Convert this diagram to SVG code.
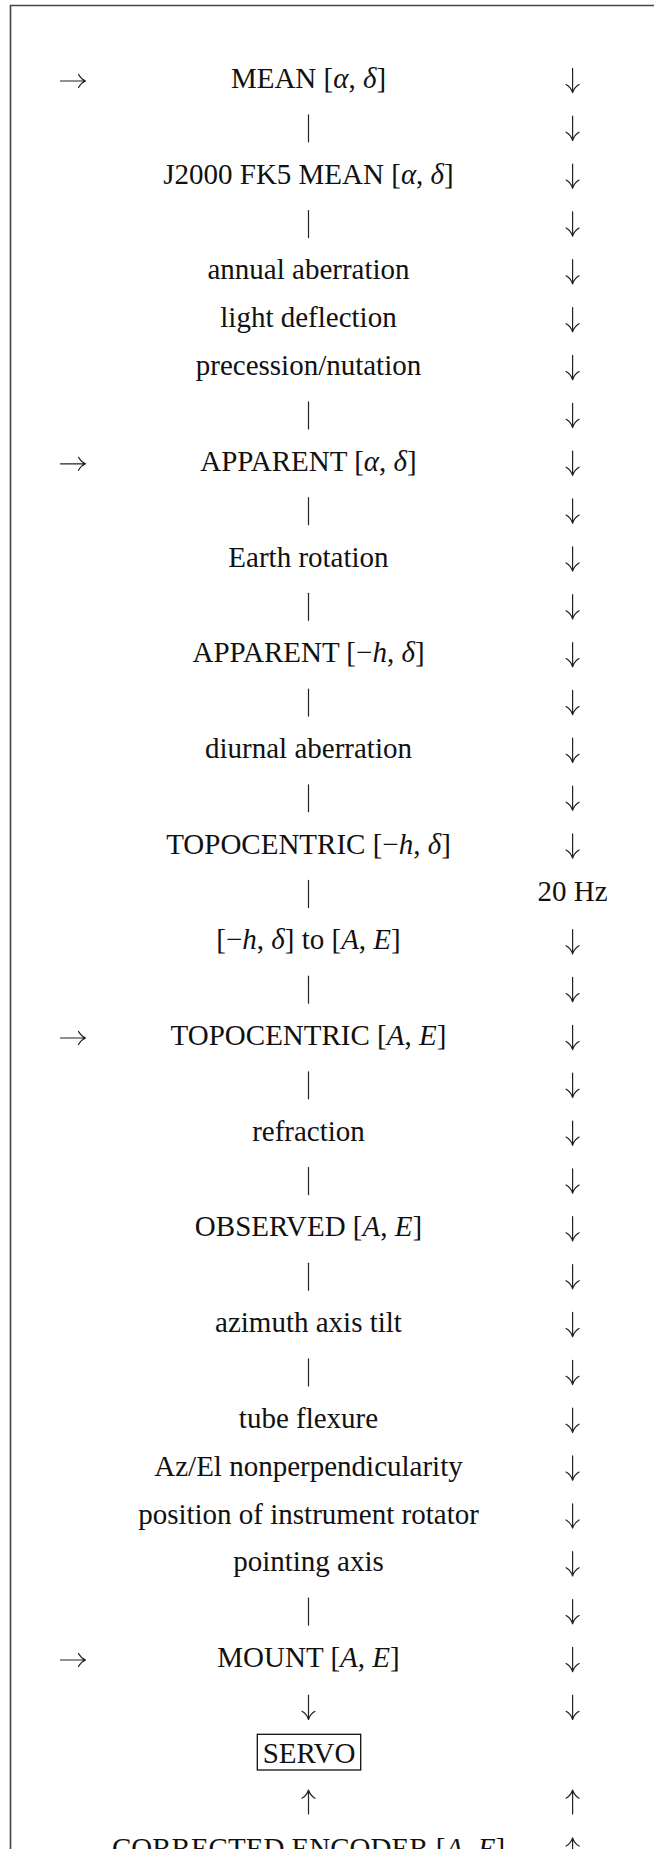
<svg xmlns="http://www.w3.org/2000/svg" width="654" height="1849" viewBox="0 0 654 1849">
<style>
text{font-family:"Liberation Serif","Times New Roman",serif;font-size:29px;fill:#111;text-anchor:middle}
.i{font-style:italic}
.ln{fill:none;stroke:#222;stroke-width:1.2;stroke-linecap:round;stroke-linejoin:round}
.frame{fill:none;stroke:#444;stroke-width:1.6}
.box{fill:none;stroke:#111;stroke-width:1.3}
</style>
<defs>
<g id="dn" class="ln"><path d="M0,-19.7V4.6M-6.5,-3.6C-3,-1.6 -1,1.4 0,4.6C1,1.4 3,-1.6 6.5,-3.6"/></g>
<g id="up" class="ln"><path d="M0,3.4V-20.6M-6.5,-12.4C-3,-14.4 -1,-17.4 0,-20.6C1,-17.4 3,-14.4 6.5,-12.4"/></g>
<g id="rt" class="ln"><path d="M-25,0H0M-7,-6.5C-5,-3 -2.5,-1 0,0C-2.5,1 -5,3 -7,6.5"/></g>
<g id="bar" class="ln"><path d="M0,-21V6"/></g>
</defs>
<path class="frame" d="M654,5.5H10.5V1849"/>

<g id="connectors">
<!-- left inputs -->
<use href="#rt" x="85.5" y="81"/>
<use href="#rt" x="85.5" y="463.8"/>
<use href="#rt" x="85.5" y="1038"/>
<use href="#rt" x="85.5" y="1660"/>
<!-- center bars -->
<use href="#bar" x="308.5" y="135.85"/>
<use href="#bar" x="308.5" y="231.55"/>
<use href="#bar" x="308.5" y="422.95"/>
<use href="#bar" x="308.5" y="518.65"/>
<use href="#bar" x="308.5" y="614.35"/>
<use href="#bar" x="308.5" y="710.05"/>
<use href="#bar" x="308.5" y="805.75"/>
<use href="#bar" x="308.5" y="901.45"/>
<use href="#bar" x="308.5" y="997.15"/>
<use href="#bar" x="308.5" y="1092.85"/>
<use href="#bar" x="308.5" y="1188.55"/>
<use href="#bar" x="308.5" y="1284.25"/>
<use href="#bar" x="308.5" y="1379.95"/>
<use href="#bar" x="308.5" y="1619.2"/>
<use href="#dn" x="308.5" y="1714.9"/>
<use href="#up" x="308.5" y="1810.6"/>
<!-- right column -->
<use href="#dn" x="572.6" y="88"/>
<use href="#dn" x="572.6" y="135.85"/>
<use href="#dn" x="572.6" y="183.7"/>
<use href="#dn" x="572.6" y="231.55"/>
<use href="#dn" x="572.6" y="279.4"/>
<use href="#dn" x="572.6" y="327.25"/>
<use href="#dn" x="572.6" y="375.1"/>
<use href="#dn" x="572.6" y="422.95"/>
<use href="#dn" x="572.6" y="470.8"/>
<use href="#dn" x="572.6" y="518.65"/>
<use href="#dn" x="572.6" y="566.5"/>
<use href="#dn" x="572.6" y="614.35"/>
<use href="#dn" x="572.6" y="662.2"/>
<use href="#dn" x="572.6" y="710.05"/>
<use href="#dn" x="572.6" y="757.9"/>
<use href="#dn" x="572.6" y="805.75"/>
<use href="#dn" x="572.6" y="853.6"/>
<use href="#dn" x="572.6" y="949.3"/>
<use href="#dn" x="572.6" y="997.15"/>
<use href="#dn" x="572.6" y="1045"/>
<use href="#dn" x="572.6" y="1092.85"/>
<use href="#dn" x="572.6" y="1140.7"/>
<use href="#dn" x="572.6" y="1188.55"/>
<use href="#dn" x="572.6" y="1236.4"/>
<use href="#dn" x="572.6" y="1284.25"/>
<use href="#dn" x="572.6" y="1332.1"/>
<use href="#dn" x="572.6" y="1379.95"/>
<use href="#dn" x="572.6" y="1427.8"/>
<use href="#dn" x="572.6" y="1475.65"/>
<use href="#dn" x="572.6" y="1523.5"/>
<use href="#dn" x="572.6" y="1571.35"/>
<use href="#dn" x="572.6" y="1619.2"/>
<use href="#dn" x="572.6" y="1667.05"/>
<use href="#dn" x="572.6" y="1714.9"/>
<use href="#up" x="572.6" y="1810.6"/>
<use href="#up" x="572.6" y="1858.45"/>
</g>

<g id="n-mean"><text x="308.5" y="88">MEAN [<tspan class="i">α</tspan>, <tspan class="i">δ</tspan>]</text></g>
<g id="n-j2000"><text x="308.5" y="183.7">J2000 FK5 MEAN [<tspan class="i">α</tspan>, <tspan class="i">δ</tspan>]</text></g>
<g id="n-annual"><text x="308.5" y="279.4">annual aberration</text></g>
<g id="n-light"><text x="308.5" y="327.25">light deflection</text></g>
<g id="n-prec"><text x="308.5" y="375.1">precession/nutation</text></g>
<g id="n-apparent"><text x="308.5" y="470.8">APPARENT [<tspan class="i">α</tspan>, <tspan class="i">δ</tspan>]</text></g>
<g id="n-earth"><text x="308.5" y="566.5">Earth rotation</text></g>
<g id="n-apparent-h"><text x="308.5" y="662.2">APPARENT [−<tspan class="i">h</tspan>, <tspan class="i">δ</tspan>]</text></g>
<g id="n-diurnal"><text x="308.5" y="757.9">diurnal aberration</text></g>
<g id="n-topo-h"><text x="308.5" y="853.6">TOPOCENTRIC [−<tspan class="i">h</tspan>, <tspan class="i">δ</tspan>]</text></g>
<g id="n-rate"><text x="572.6" y="901.45">20 Hz</text></g>
<g id="n-conv"><text x="308.5" y="949.3">[−<tspan class="i">h</tspan>, <tspan class="i">δ</tspan>] to [<tspan class="i">A</tspan>, <tspan class="i">E</tspan>]</text></g>
<g id="n-topo-ae"><text x="308.5" y="1045">TOPOCENTRIC [<tspan class="i">A</tspan>, <tspan class="i">E</tspan>]</text></g>
<g id="n-refraction"><text x="308.5" y="1140.7">refraction</text></g>
<g id="n-observed"><text x="308.5" y="1236.4">OBSERVED [<tspan class="i">A</tspan>, <tspan class="i">E</tspan>]</text></g>
<g id="n-tilt"><text x="308.5" y="1332.1">azimuth axis tilt</text></g>
<g id="n-flexure"><text x="308.5" y="1427.8">tube flexure</text></g>
<g id="n-azel"><text x="308.5" y="1475.65">Az/El nonperpendicularity</text></g>
<g id="n-rotator"><text x="308.5" y="1523.5">position of instrument rotator</text></g>
<g id="n-pointing"><text x="308.5" y="1571.35">pointing axis</text></g>
<g id="n-mount"><text x="308.5" y="1667.05">MOUNT [<tspan class="i">A</tspan>, <tspan class="i">E</tspan>]</text></g>
<g id="n-servo"><rect class="box" x="257.3" y="1734.3" width="103.4" height="35.7"/><text x="309" y="1762.75">SERVO</text></g>
<g id="n-encoder"><text x="308.5" y="1858.45">CORRECTED ENCODER [<tspan class="i">A</tspan>, <tspan class="i">E</tspan>]</text></g>
</svg>
